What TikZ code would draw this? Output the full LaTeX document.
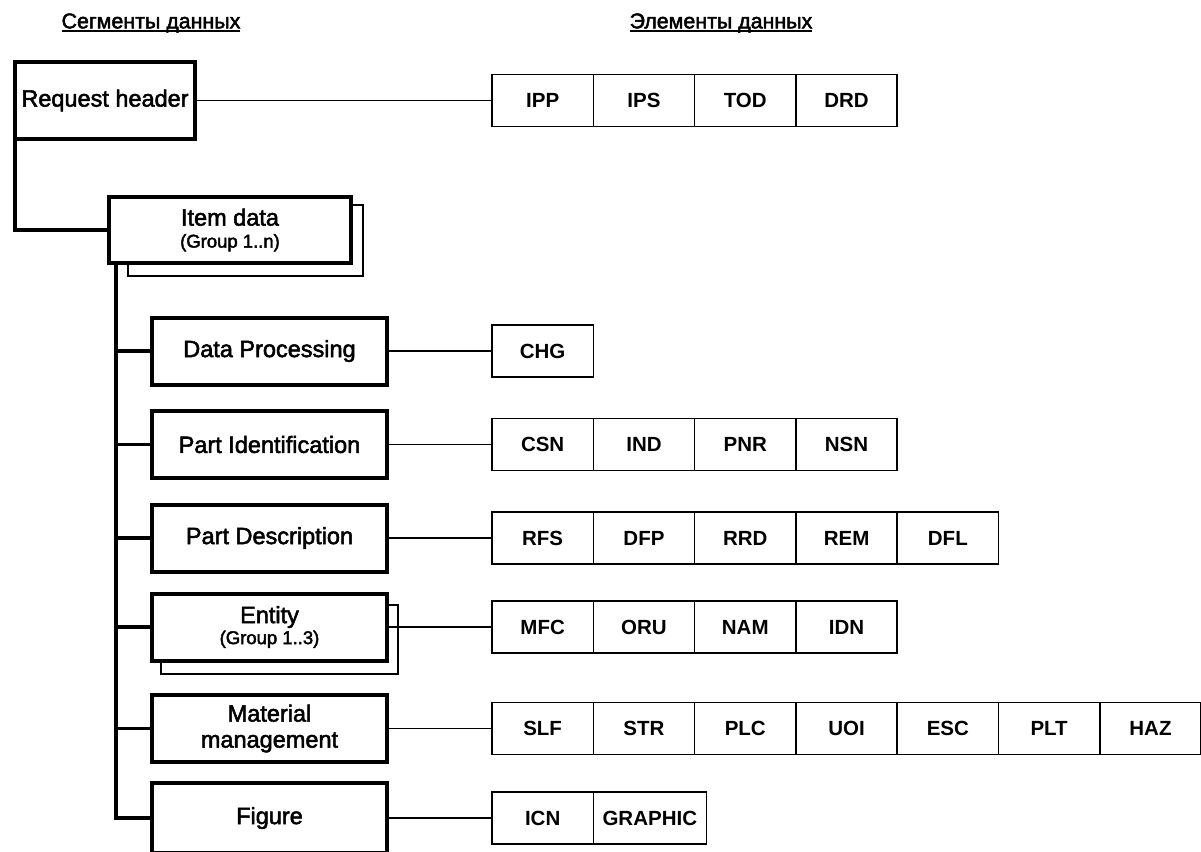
\documentclass[tikz,border=0pt]{standalone}
\usepackage{fontspec}
\setmainfont{Liberation Sans}
\newfontfamily\segfont{Liberation Sans}[FakeBold=2.2]
\usetikzlibrary{positioning}
\newsavebox{\titlebox}
\newcommand{\ulined}[1]{\sbox{\titlebox}{#1}\rlap{\rule[-3.5pt]{\wd\titlebox}{1.7pt}}\usebox{\titlebox}}
\newcommand{\grpfont}{\fontsize{18.5}{20}\selectfont}
\tikzset{
  segbox/.style={draw, line width=4pt, fill=white, align=center,
    minimum width=235pt, minimum height=67pt, inner sep=2pt,
    font=\segfont\fontsize{23.5}{26}\selectfont},
  elbox/.style={draw, line width=1.5pt, outer sep=0pt, inner sep=0pt,
    minimum width=101.3pt, minimum height=52pt,
    font=\bfseries\fontsize{20.5}{23}\selectfont},
  title/.style={font=\segfont\fontsize{21.4}{24}\selectfont},
  shadowline/.style={line width=1.5pt},
  link/.style={line width=1.3pt},
  tree/.style={line width=3.5pt},
}

\begin{document}
\begin{tikzpicture}[x=1pt,y=-1pt]
    \useasboundingbox (0,0) rectangle (1201,851);
    \node [title] (segs) at (151,23) {\ulined{Сегменты данных}};
    \node [title] (elems) at (721,23) {\ulined{Элементы данных}};
    % copies behind the grouped segments
    \draw [shadowline] (128,205) rectangle (363,276);
    \draw [shadowline] (161,605) rectangle (398,674);
    % data segments
    \node [segbox, minimum width=180pt, minimum height=77pt] (req) at (105,100.5) {Request header};
    \node [segbox, minimum width=242pt, minimum height=66pt] (item) at (230,230) {Item data\\[-4pt]{\grpfont (Group 1..n)}};
    \node [segbox] (dp) at (269.5,351) {Data Processing};
    \node [segbox] (pi) at (269.5,444.5) {Part Identification};
    \node [segbox] (pd) at (269.5,538) {Part Description};
    \node [segbox] (ent) at (269.5,627) {Entity\\[-5pt]{\grpfont (Group 1..3)}};
    \node [segbox] (mm) at (269.5,728.5) {Material\\management};
    \node [segbox, minimum height=70pt] (fig) at (269.5,818) {Figure};
    % data elements
    \foreach \y/\cells in {100.5/{IPP,IPS,TOD,DRD}, 351/{CHG},
        444.5/{CSN,IND,PNR,NSN}, 538/{RFS,DFP,RRD,REM,DFL},
        627/{MFC,ORU,NAM,IDN}, 728.5/{SLF,STR,PLC,UOI,ESC,PLT,HAZ},
        818/{ICN}}
      \foreach \c [count=\i] in \cells
        \node [elbox] (\c) at ({492+(\i-0.5)*101.3},\y) {\c};
    \node [elbox, minimum width=113pt, right=0pt of ICN] (GRAPHIC) {GRAPHIC};
    \draw [link] (req) -- (IPP);
    \draw [link] (dp) -- (CHG);
    \draw [link] (pi) -- (CSN);
    \draw [link] (pd) -- (RFS);
    \draw [link] (ent) -- (MFC);
    \draw [link] (mm) -- (SLF);
    \draw [link] (fig) -- (ICN);
    % tree
    \draw [tree] ([xshift=2pt]req.south west) |- (item.west);
    \coordinate (spine) at ([xshift=9pt]item.south west);
    \foreach \s in {dp,pi,pd,ent,mm,fig}
      \draw [tree] (spine) |- (\s.west);
  \end{tikzpicture}
\end{document}
